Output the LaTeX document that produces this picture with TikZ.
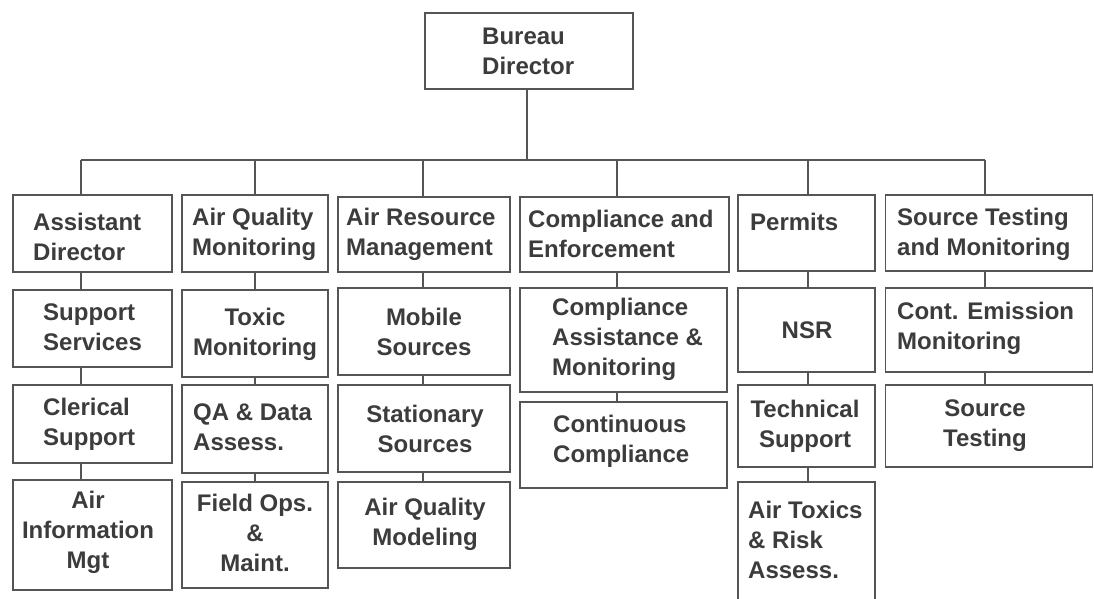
\documentclass[tikz,border=0pt]{standalone}
\usepackage{fontspec}
\setmainfont{Liberation Sans}
\begin{document}
\begin{tikzpicture}[x=1pt,y=-1pt,
  box/.style={draw=boxgrey, line width=1.8pt, fill=white, inner sep=0pt},
  lbl/.style={text=txtgrey, font=\bfseries\fontsize{24}{30}\selectfont, inner sep=0pt},
  lbll/.style={lbl, align=left, anchor=west},
  lblc/.style={lbl, align=center},
  link/.style={draw=boxgrey, line width=1.8pt}]
\definecolor{boxgrey}{HTML}{555555}
\definecolor{txtgrey}{HTML}{3C3C3C}
\useasboundingbox[fill=white] (0,0) rectangle (1094,598);

% top of the chart
\node[box, minimum width=208pt, minimum height=76pt] (bd) at (529,51) {};
\node[lbll] (bdt) at (482,51) {Bureau\\Director};

% bus line feeding the six divisions
\coordinate (bus) at (527,160);
\coordinate (c1) at (81,160);
\coordinate (c2) at (255,160);
\coordinate (c3) at (423,160);
\coordinate (c4) at (617,160);
\coordinate (c5) at (808,160);
\coordinate (c6) at (985,160);
\draw[link] (bd.south -| bus) -- (bus);
\draw[link] (c1) -- (c6);

% column 1
\node[box, minimum width=159pt, minimum height=77pt] (a1) at (92.5,233.5) {};
\node[box, minimum width=159pt, minimum height=77pt] (a2) at (92.5,328.5) {};
\node[box, minimum width=159pt, minimum height=78pt] (a3) at (92.5,424) {};
\node[box, minimum width=159pt, minimum height=110pt] (a4) at (92.5,535) {};
\node[lbll] (a1t) at (33,237) {Assistant\\Director};
\node[lbll] (a2t) at (43,327) {Support\\Services};
\node[lbll] (a3t) at (43,424) {Clerical\\Support};
\node[lblc] (a4t) at (88,532) {Air\\Information\\Mgt};

% column 2
\node[box, minimum width=146pt, minimum height=77pt] (b1) at (255,233.5) {};
\node[box, minimum width=146pt, minimum height=87pt] (b2) at (255,333.5) {};
\node[box, minimum width=146pt, minimum height=88pt] (b3) at (255,429) {};
\node[box, minimum width=146pt, minimum height=106pt] (b4) at (255,535) {};
\node[lbll] (b1t) at (192,234) {Air Quality\\Monitoring};
\node[lblc] (b2t) at (255,334) {Toxic\\Monitoring};
\node[lbll] (b3t) at (193,427) {QA \& Data\\Assess.};
\node[lblc] (b4t) at (255,533) {Field Ops.\\\&\\Maint.};

% column 3
\node[box, minimum width=172pt, minimum height=75pt] (m1) at (424,234.5) {};
\node[box, minimum width=172pt, minimum height=87pt] (m2) at (424,331.5) {};
\node[box, minimum width=172pt, minimum height=87pt] (m3) at (424,428.5) {};
\node[box, minimum width=172pt, minimum height=86pt] (m4) at (424,525) {};
\node[lbll] (m1t) at (346,234) {Air Resource\\Management};
\node[lblc] (m2t) at (424,332) {Mobile\\Sources};
\node[lblc] (m3t) at (425,429) {Stationary\\Sources};
\node[lblc] (m4t) at (425,524) {Air Quality\\Modeling};

% column 4
\node[box, minimum width=209pt, minimum height=75pt] (e1) at (624.5,234.5) {};
\node[box, minimum width=207pt, minimum height=104pt] (e2) at (623.5,340) {};
\node[box, minimum width=207pt, minimum height=86pt] (e3) at (623.5,445) {};
\node[lbll] (e1t) at (528,234) {Compliance and\\Enforcement};
\node[lbll] (e2t) at (552,339) {Compliance\\Assistance \&\\Monitoring};
\node[lbll] (e3t) at (553,441) {Continuous\\Compliance};

% column 5
\node[box, minimum width=137pt, minimum height=76pt] (p1) at (806.5,233) {};
\node[box, minimum width=137pt, minimum height=84pt] (p2) at (806.5,330) {};
\node[box, minimum width=137pt, minimum height=82pt] (p3) at (806.5,426) {};
\node[box, minimum width=137pt, minimum height=118pt] (p4) at (806.5,541) {};
\node[lbll] (p1t) at (750,222) {Permits};
\node[lblc] (p2t) at (807,330) {NSR};
\node[lblc] (p3t) at (805,426) {Technical\\Support};
\node[lbll] (p4t) at (748,540) {Air Toxics\\\& Risk\\Assess.};

% column 6
\node[box, minimum width=207pt, minimum height=76pt] (s1) at (989,233) {};
\node[box, minimum width=207pt, minimum height=84pt] (s2) at (989,330) {};
\node[box, minimum width=207pt, minimum height=82pt] (s3) at (989,426) {};
\node[lbll] (s1t) at (897,234) {Source Testing\\and Monitoring};
\node[lbll] (s2t) at (897,328) {Cont. Emission\\Monitoring};
\node[lblc] (s3t) at (985,426) {Source\\Testing};

% drops from the bus and links inside each column
\draw[link] (c1) -- (a1.north -| c1);
\draw[link] (a1.south -| c1) -- (a2.north -| c1);
\draw[link] (a2.south -| c1) -- (a3.north -| c1);
\draw[link] (a3.south -| c1) -- (a4.north -| c1);

\draw[link] (c2) -- (b1.north -| c2);
\draw[link] (b1.south -| c2) -- (b2.north -| c2);
\draw[link] (b2.south -| c2) -- (b3.north -| c2);
\draw[link] (b3.south -| c2) -- (b4.north -| c2);

\draw[link] (c3) -- (m1.north -| c3);
\draw[link] (m1.south -| c3) -- (m2.north -| c3);
\draw[link] (m2.south -| c3) -- (m3.north -| c3);
\draw[link] (m3.south -| c3) -- (m4.north -| c3);

\draw[link] (c4) -- (e1.north -| c4);
\draw[link] (e1.south -| c4) -- (e2.north -| c4);
\draw[link] (e2.south -| c4) -- (e3.north -| c4);

\draw[link] (c5) -- (p1.north -| c5);
\draw[link] (p1.south -| c5) -- (p2.north -| c5);
\draw[link] (p2.south -| c5) -- (p3.north -| c5);
\draw[link] (p3.south -| c5) -- (p4.north -| c5);

\draw[link] (c6) -- (s1.north -| c6);
\draw[link] (s1.south -| c6) -- (s2.north -| c6);
\draw[link] (s2.south -| c6) -- (s3.north -| c6);
\end{tikzpicture}
\end{document}
